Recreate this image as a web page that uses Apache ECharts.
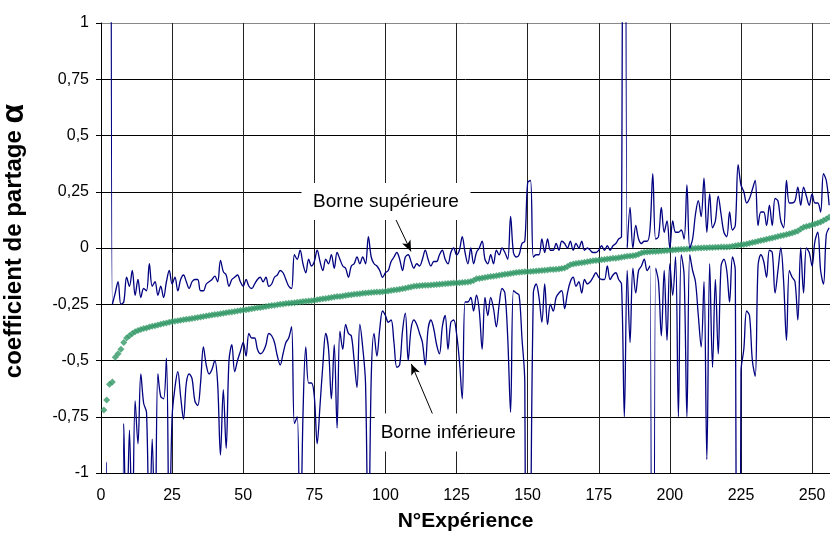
<!DOCTYPE html>
<html><head><meta charset="utf-8">
<script src="https://cdn.jsdelivr.net/npm/echarts@6/dist/echarts.min.js"></script>
<style>html,body{margin:0;padding:0;background:#fff}#c{width:830px;height:534px}</style>
</head><body><div id="c"></div>
<script>
// Sorted partition coefficient alpha (green diamonds), experiments 1..256
const alphaValues = [
-0.72,-0.675,-0.605,-0.595,-0.485,-0.47,-0.45,-0.42,-0.40,-0.39,
-0.38,-0.372,-0.367,-0.362,-0.358,-0.355,-0.351,-0.348,-0.345,-0.342,
-0.339,-0.336,-0.333,-0.33,-0.327,-0.325,-0.323,-0.321,-0.319,-0.317,
-0.315,-0.313,-0.311,-0.309,-0.307,-0.304,-0.302,-0.30,-0.298,-0.296,
-0.294,-0.292,-0.29,-0.288,-0.286,-0.284,-0.282,-0.28,-0.278,-0.276,
-0.274,-0.272,-0.27,-0.268,-0.266,-0.264,-0.262,-0.26,-0.258,-0.256,
-0.254,-0.252,-0.25,-0.249,-0.247,-0.246,-0.244,-0.243,-0.241,-0.24,
-0.238,-0.237,-0.236,-0.234,-0.232,-0.23,-0.228,-0.226,-0.224,-0.222,
-0.22,-0.218,-0.216,-0.215,-0.213,-0.211,-0.209,-0.208,-0.206,-0.204,
-0.203,-0.201,-0.2,-0.199,-0.198,-0.197,-0.196,-0.195,-0.194,-0.193,
-0.191,-0.189,-0.187,-0.185,-0.183,-0.181,-0.179,-0.176,-0.173,-0.17,
-0.169,-0.168,-0.167,-0.166,-0.165,-0.164,-0.163,-0.162,-0.161,-0.16,
-0.159,-0.158,-0.157,-0.156,-0.155,-0.154,-0.153,-0.152,-0.151,-0.149,
-0.144,-0.137,-0.135,-0.133,-0.131,-0.129,-0.127,-0.125,-0.123,-0.121,
-0.119,-0.117,-0.115,-0.113,-0.111,-0.109,-0.108,-0.107,-0.106,-0.105,
-0.104,-0.103,-0.102,-0.101,-0.1,-0.099,-0.098,-0.096,-0.095,-0.094,
-0.093,-0.091,-0.089,-0.082,-0.074,-0.071,-0.069,-0.067,-0.065,-0.063,
-0.061,-0.059,-0.057,-0.055,-0.054,-0.052,-0.051,-0.049,-0.048,-0.046,
-0.045,-0.043,-0.041,-0.039,-0.037,-0.036,-0.034,-0.032,-0.028,-0.022,
-0.019,-0.018,-0.017,-0.016,-0.015,-0.014,-0.013,-0.012,-0.011,-0.01,
-0.009,-0.008,-0.007,-0.006,-0.005,-0.004,-0.003,-0.002,-0.001,0.0,
0.0,0.001,0.001,0.002,0.002,0.003,0.003,0.004,0.004,0.005,
0.006,0.008,0.01,0.012,0.014,0.016,0.018,0.021,0.024,0.027,
0.03,0.033,0.036,0.039,0.042,0.045,0.048,0.051,0.054,0.057,
0.06,0.063,0.067,0.071,0.076,0.084,0.092,0.096,0.099,0.103,
0.107,0.111,0.116,0.122,0.129,0.137
];
// Upper bound (Borne supérieure); values far outside [-1,1] leave the plot
const upperBound = [
5,5,5,-0.25,-0.2,-0.15,-0.25,-0.24,-0.13,-0.17,
-0.10,-0.21,-0.14,-0.22,-0.18,-0.19,-0.07,-0.17,-0.15,-0.21,
-0.17,-0.22,-0.15,-0.10,-0.16,-0.13,-0.19,-0.14,-0.12,-0.15,
-0.18,-0.15,-0.14,-0.14,-0.19,-0.19,-0.16,-0.15,-0.14,-0.125,
-0.15,-0.055,-0.105,-0.12,-0.17,-0.14,-0.13,-0.12,-0.15,-0.17,
-0.14,-0.17,-0.18,-0.16,-0.14,-0.13,-0.15,-0.13,-0.17,-0.16,
-0.13,-0.12,-0.10,-0.11,-0.14,-0.17,-0.18,-0.03,-0.05,-0.01,
-0.07,-0.11,-0.05,-0.08,-0.06,-0.01,-0.06,-0.10,-0.05,-0.07,
-0.03,-0.09,-0.02,-0.05,-0.08,-0.09,-0.13,-0.08,-0.07,-0.04,
-0.07,-0.04,-0.07,0.05,-0.04,-0.07,-0.08,-0.10,-0.13,-0.11,
-0.10,-0.06,-0.04,-0.02,-0.05,-0.10,-0.04,-0.03,-0.06,-0.09,
-0.07,-0.08,-0.05,-0.01,-0.05,-0.08,-0.06,-0.06,-0.03,-0.01,
-0.05,-0.07,-0.02,0.00,-0.03,-0.01,0.05,-0.02,-0.07,0.00,
-0.07,-0.02,0.00,0.03,-0.05,-0.07,-0.03,-0.07,-0.01,-0.03,
0.00,-0.02,-0.05,0.14,-0.02,-0.04,-0.03,0.02,0.03,0.29,
0.30,-0.04,-0.03,-0.03,0.04,-0.02,0.04,-0.01,-0.01,0.02,
-0.01,0.03,0.02,0.00,0.03,-0.01,0.02,0.00,0.03,-0.01,
0.00,-0.01,-0.02,-0.02,-0.01,0.01,-0.01,0.01,-0.01,0.01,
0.02,0.04,0.05,5,0.00,0.18,0.00,0.10,0.04,0.02,
0.03,0.03,0.08,0.33,0.04,0.05,0.18,0.07,0.12,0.00,
0.12,0.07,0.07,0.08,0.04,0.28,0.00,0.04,0.15,0.21,
0.14,0.31,0.07,0.24,0.09,0.12,0.23,0.15,0.07,0.05,
0.16,0.08,0.10,0.37,0.28,0.25,0.20,0.22,0.26,0.30,
0.10,0.16,0.16,0.10,0.19,0.10,0.22,0.21,0.12,0.09,
0.30,0.20,0.20,0.21,0.27,0.19,0.27,0.23,0.19,0.24,
0.20,0.20,0.16,0.33,0.30,0.19
];
// Lower bound (Borne inférieure)
const lowerBound = [
-5,-0.95,-5,-5,-5,-5,-5,-0.78,-1.3,-0.81,
-1.3,-0.68,-0.87,-0.56,-0.69,-0.73,-1.3,-0.85,-1.3,-0.56,
-0.66,-0.67,-0.49,-1.3,-0.75,-0.62,-0.55,-0.66,-0.76,-0.6,
-0.56,-0.58,-0.68,-0.7,-0.6,-0.44,-0.52,-0.56,-0.54,-0.5,
-0.6,-0.92,-0.63,-0.89,-0.5,-0.43,-0.55,-0.5,-0.46,-0.42,
-0.48,-0.38,-0.4,-0.4,-0.45,-0.47,-0.46,-0.43,-0.38,-0.39,
-0.42,-0.48,-0.52,-0.47,-0.42,-0.4,-0.35,-0.78,-0.75,-1.4,
-0.75,-0.44,-0.6,-0.6,-0.66,-0.87,-0.7,-0.52,-0.38,-0.45,
-0.67,-0.43,-0.8,-0.37,-0.45,-0.34,-0.38,-0.39,-0.5,-0.62,
-0.34,-0.44,-0.6,-1.4,-0.58,-0.38,-0.48,-0.36,-0.28,-0.3,
-0.33,-0.32,-0.42,-0.53,-0.52,-0.37,-0.29,-0.5,-0.36,-0.32,
-0.34,-0.38,-0.42,-0.52,-0.36,-0.32,-0.36,-0.43,-0.47,-0.35,
-0.3,-0.45,-0.33,-0.32,-0.38,-0.5,-0.67,-0.24,-0.24,-0.22,
-0.28,-0.21,-0.28,-0.45,-0.22,-0.3,-0.22,-0.27,-0.35,-0.25,
-0.18,-0.2,-0.4,-0.73,-0.19,-0.2,-0.21,-0.4,-0.6,-5,
-1.5,-0.2,-0.16,-0.22,-0.33,-0.16,-0.34,-0.25,-0.28,-0.22,
-0.2,-0.19,-0.27,-0.2,-0.15,-0.13,-0.17,-0.15,-0.2,-0.14,
-0.16,-0.15,-0.13,-0.11,-0.13,-0.14,-0.14,-0.08,-0.14,-0.12,
-0.11,-0.14,-0.16,-0.75,-0.1,-0.42,-0.09,-0.2,-0.1,-0.08,
-0.05,-0.1,-0.08,-5,-0.09,-0.15,-0.39,-0.1,-0.41,-0.07,
-0.21,-0.04,-0.75,-0.03,-0.12,-0.75,-0.03,-0.1,-0.15,-0.3,
-0.44,-0.15,-0.94,-0.07,-0.53,-0.14,-0.47,-0.08,-0.05,-0.1,
-0.24,-0.04,-0.1,-5,-0.55,-0.45,-0.28,-0.3,-0.5,-0.57,
-0.08,-0.03,-0.06,-0.13,-0.01,-0.02,-0.2,-0.1,0.0,-0.15,
-0.41,-0.1,-0.13,-0.15,-0.32,0.0,-0.2,0.0,-0.02,-0.08,
0.03,0.07,-0.1,-0.16,0.06,0.09
];
const xTicks = {min: 0, max: 256.3, interval: 25};
const yTicks = {min: -1, max: 1, interval: 0.25};

const FONT = "'Liberation Sans', Arial, sans-serif";
const pairs = arr => arr.map((v, i) => [i + 1, v]);
const fmt = v => String(Math.round(v * 100) / 100).replace('.', ',');

const chart = echarts.init(document.getElementById('c'), null, {renderer: 'canvas'});
chart.setOption({
  animation: false,
  backgroundColor: '#fff',
  grid: {left: 101, right: 0, top: 23, bottom: 61, containLabel: false, outerBoundsMode: 'none'},
  xAxis: {
    type: 'value', min: xTicks.min, max: xTicks.max, interval: xTicks.interval,
    name: 'N°Expérience', nameLocation: 'middle', nameGap: 38,
    nameTextStyle: {fontFamily: FONT, fontWeight: 'bold', fontSize: 21, color: '#000'},
    axisLine: {lineStyle: {color: '#000', width: 1}},
    axisTick: {show: true, inside: false, length: 5, lineStyle: {color: '#000'}},
    axisLabel: {fontFamily: FONT, fontSize: 16, color: '#000', margin: 15, showMaxLabel: false},
    splitLine: {show: true, lineStyle: {color: '#222', width: 1}}
  },
  yAxis: {
    type: 'value', min: yTicks.min, max: yTicks.max, interval: yTicks.interval,
    name: 'coefficient de partage {a|α}', nameLocation: 'middle', nameGap: 71,
    nameTextStyle: {fontFamily: FONT, fontWeight: 'bold', fontSize: 24, color: '#000',
      padding: [0, 0, 0, 14],
      rich: {a: {fontFamily: FONT, fontWeight: 'bold', fontSize: 32, color: '#000'}}},
    axisLine: {show: true, lineStyle: {color: '#000', width: 1}},
    axisTick: {show: true, inside: false, length: 5, lineStyle: {color: '#000'}},
    axisLabel: {fontFamily: FONT, fontSize: 16, color: '#000', margin: 12, formatter: fmt},
    splitLine: {show: true, lineStyle: {color: ['#000','#000','#000','#000','#000','#000','#000','#000','#888'], width: 1}}
  },
  series: [
    {
      name: 'alpha', type: 'scatter', data: pairs(alphaValues),
      symbol: 'diamond', symbolSize: 7,
      itemStyle: {color: '#339966'}, silent: true, z: 2,
      markPoint: {
        silent: true, z: 6,
        data: [
          {coord: [100.2, 0.207], symbol: 'rect', symbolSize: [169, 37], itemStyle: {color: '#fff'},
           label: {show: true, position: 'inside', formatter: 'Borne supérieure', color: '#000', fontSize: 19, fontFamily: FONT}},
          {coord: [122.1, -0.82], symbol: 'rect', symbolSize: [147, 38], itemStyle: {color: '#fff'},
           label: {show: true, position: 'inside', formatter: 'Borne inférieure', color: '#000', fontSize: 19, fontFamily: FONT}}
        ]
      },
      markLine: {
        silent: true, z: 6, symbol: ['none', 'arrow'], symbolSize: [7, 11],
        label: {show: false},
        lineStyle: {color: '#000', width: 1, type: 'solid'},
        data: [
          [{coord: [103.56, 0.129]}, {coord: [109.0, -0.015]}],
          [{coord: [116.67, -0.741]}, {coord: [109.1, -0.515]}]
        ]
      }
    },
    {
      name: 'Borne supérieure', type: 'line', data: pairs(upperBound), smooth: 0.35,
      showSymbol: false, symbol: 'none', clip: true, silent: true, z: 3,
      lineStyle: {color: '#000080', width: 1.3}
    },
    {
      name: 'Borne inférieure', type: 'line', data: pairs(lowerBound), smooth: 0.35,
      showSymbol: false, symbol: 'none', clip: true, silent: true, z: 3,
      lineStyle: {color: '#000080', width: 1.3}
    }
  ]
});
</script>
</body></html>
